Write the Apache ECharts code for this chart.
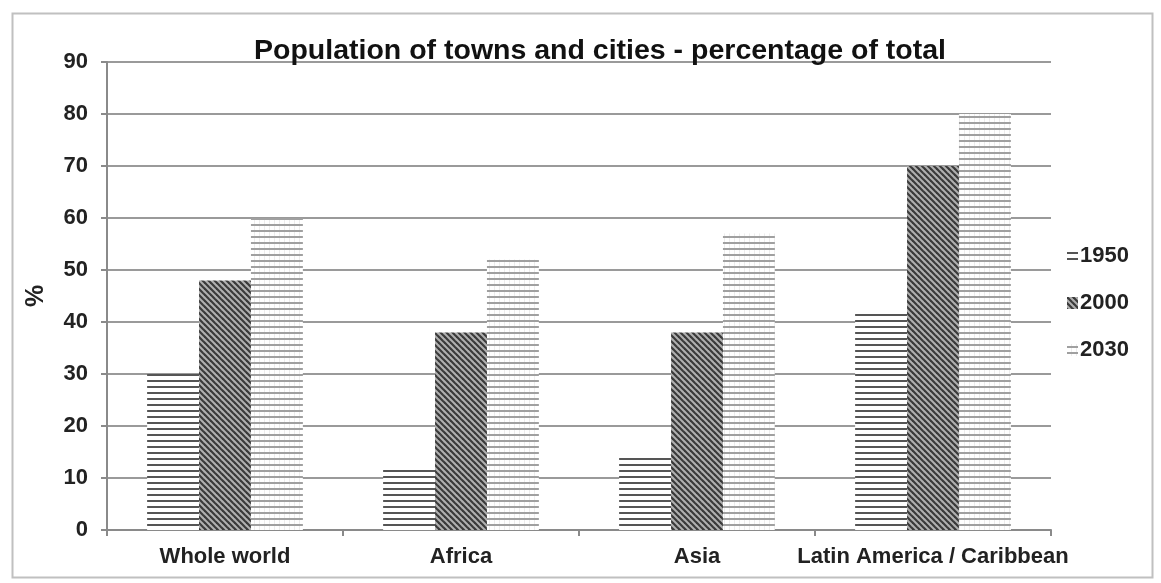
<!DOCTYPE html>
<html>
<head>
<meta charset="utf-8">
<script src="https://cdn.jsdelivr.net/npm/echarts@6/dist/echarts.min.js"></script>
<style>
html,body{margin:0;padding:0;background:#fff;}
#chart{width:1161px;height:583px;}
</style>
</head>
<body>
<div id="chart"></div>
<script>
const categories = ['Whole world', 'Africa', 'Asia', 'Latin America / Caribbean'];
const seriesNames = ['1950', '2000', '2030'];
const values1950 = [30, 12, 14, 42];
const values2000 = [48, 38, 38, 70];
const values2030 = [60, 52, 57, 80];
const yTicks = [0, 10, 20, 30, 40, 50, 60, 70, 80, 90];

function makePattern(kind) {
  const c = document.createElement('canvas');
  const ctx = c.getContext('2d');
  if (kind === 'h') {
    c.width = 6; c.height = 6;
    ctx.fillStyle = '#ffffff'; ctx.fillRect(0, 0, 6, 6);
    ctx.fillStyle = '#555555'; ctx.fillRect(0, 2, 6, 2);
  } else if (kind === 'd') {
    c.width = 6; c.height = 6;
    ctx.fillStyle = '#b0b0b0'; ctx.fillRect(0, 0, 6, 6);
    ctx.strokeStyle = '#3a3a3a'; ctx.lineWidth = 2.2;
    for (let k = -2; k <= 2; k++) {
      ctx.beginPath();
      ctx.moveTo(k * 6 - 1, -1);
      ctx.lineTo(k * 6 + 7, 7);
      ctx.stroke();
    }
  } else {
    c.width = 5; c.height = 6;
    ctx.fillStyle = '#ffffff'; ctx.fillRect(0, 0, 5, 6);
    ctx.fillStyle = '#ededed'; ctx.fillRect(4, 0, 1, 6);
    ctx.fillStyle = '#a0a0a0'; ctx.fillRect(0, 2, 5, 2);
  }
  return { image: c, repeat: 'repeat' };
}

const patterns = [makePattern('h'), makePattern('d'), makePattern('g')];
const dataSets = [values1950, values2000, values2030];

const chart = echarts.init(document.getElementById('chart'), null, { renderer: 'canvas' });
const font = 'Liberation Sans, Arial, sans-serif';
chart.setOption({
  animation: false,
  backgroundColor: '#ffffff',
  title: {
    text: 'Population of towns and cities - percentage of total',
    left: 595, top: 32, textAlign: 'center',
    textStyle: { fontFamily: font, fontWeight: 'bold', fontSize: 28.5, color: '#111' }
  },
  graphic: [{
    type: 'rect', left: 10, top: 11, z: -1,
    shape: { width: 1140, height: 564 },
    style: { fill: 'none', stroke: '#c0c0c0', lineWidth: 2 }
  }],
  legend: {
    orient: 'vertical', left: 1062, top: 240,
    itemWidth: 11, itemHeight: 12, itemGap: 25,
    icon: 'rect',
    textStyle: { fontFamily: font, fontWeight: 'bold', fontSize: 22, color: '#222', padding: [0, 0, 0, -3] },
    data: seriesNames
  },
  grid: { left: 107, right: 110, top: 62, bottom: 53, containLabel: false },
  xAxis: {
    type: 'category', data: categories,
    axisLine: { lineStyle: { color: '#8a8a8a', width: 2 } },
    axisTick: { show: true, interval: 0, length: 6, lineStyle: { color: '#8a8a8a', width: 2 } },
    axisLabel: { interval: 0, fontFamily: font, fontWeight: 'bold', fontSize: 22, color: '#222', margin: 16 }
  },
  yAxis: {
    type: 'value', min: yTicks[0], max: yTicks[yTicks.length - 1], interval: 10,
    name: '%', nameLocation: 'middle', nameGap: 58, nameRotate: 90,
    nameTextStyle: { fontFamily: font, fontWeight: 'bold', fontSize: 25, color: '#222' },
    axisLine: { show: true, lineStyle: { color: '#8a8a8a', width: 2 } },
    axisTick: { show: true, length: 6, lineStyle: { color: '#8a8a8a', width: 2 } },
    axisLabel: { fontFamily: font, fontWeight: 'bold', fontSize: 22, color: '#222', margin: 19 },
    splitLine: { lineStyle: { color: '#9a9a9a', width: 2 } }
  },
  series: seriesNames.map((n, i) => ({
    name: n, type: 'bar', data: dataSets[i],
    barGap: '0%', barCategoryGap: '34%',
    itemStyle: { color: patterns[i] }
  }))
});
</script>
</body>
</html>
